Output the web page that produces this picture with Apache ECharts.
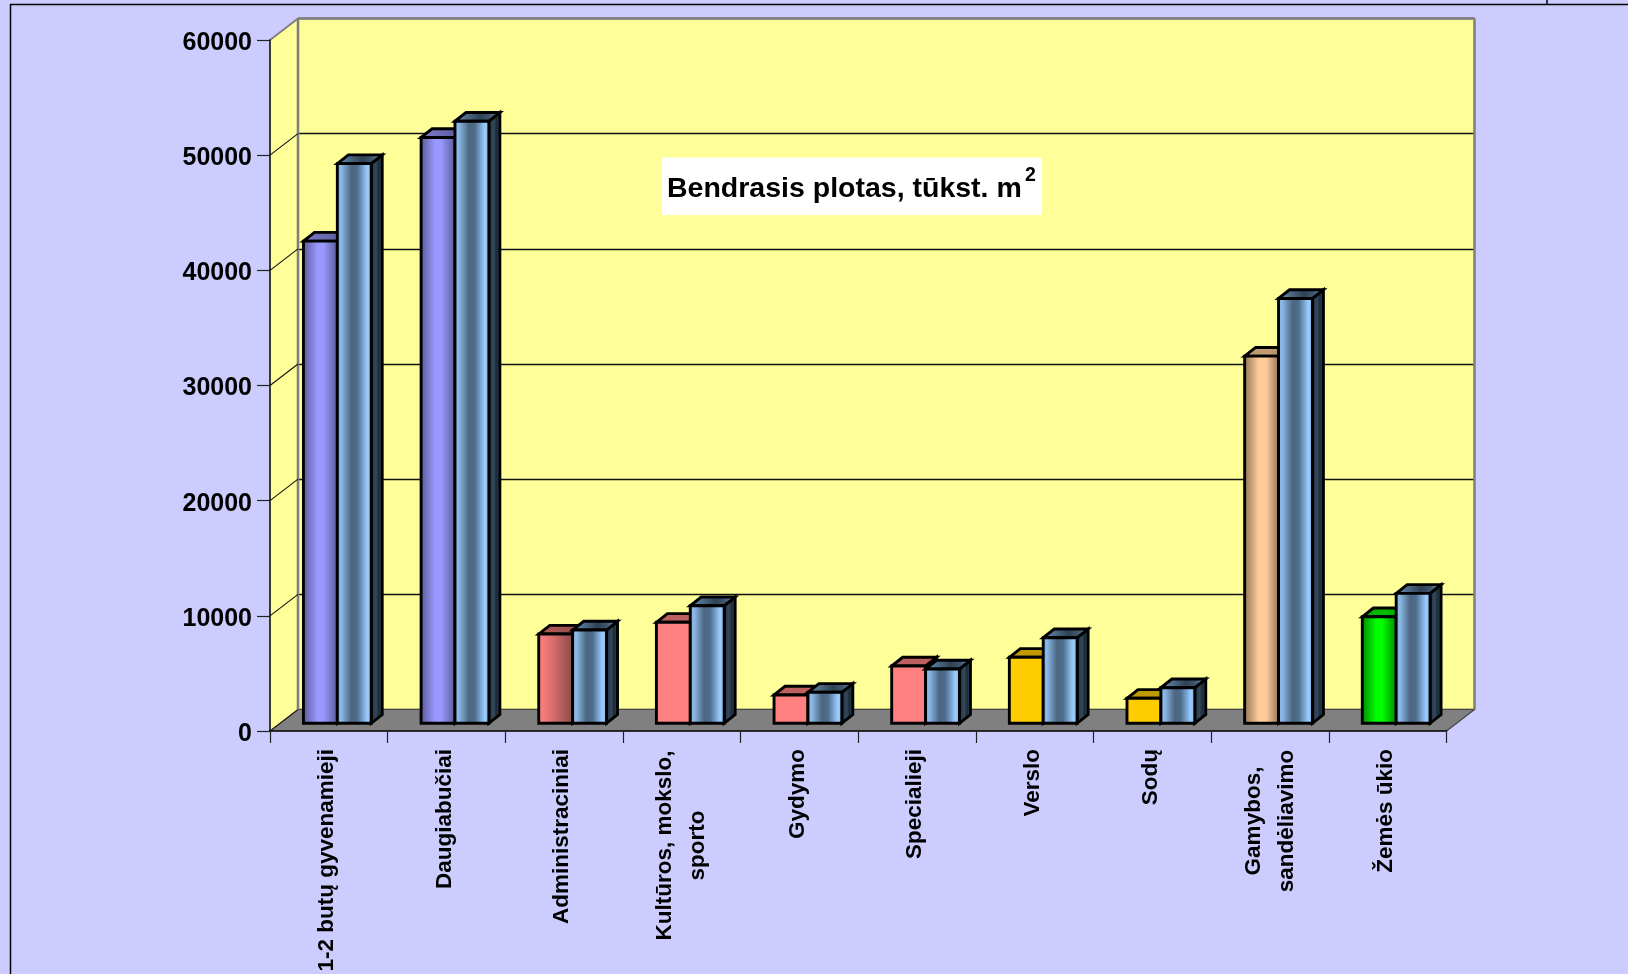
<!DOCTYPE html>
<html><head><meta charset="utf-8">
<style>html,body{margin:0;padding:0;background:#ccccff;overflow:hidden}#c{width:1628px;height:974px}</style>
<script src="https://cdn.jsdelivr.net/npm/echarts@6/dist/echarts.min.js"></script>
</head><body><div id="c"></div>
<script>
const categories = ['1-2 butų gyvenamieji','Daugiabučiai','Administraciniai','Kultūros, mokslo,\nsporto','Gydymo','Specialieji','Verslo','Sodų','Gamybos,\nsandėliavimo','Žemės ūkio'];
const firstValues  = [41870,50870,7750,8770,2460,4975,5730,2170,31880,9250];
const secondValues = [48600,52280,8100,10210,2690,4715,7430,3090,36890,11285];
const yTicks = [0,10000,20000,30000,40000,50000,60000];
const chartTitle = 'Bendrasis plotas, tūkst. m';
const titleSup = '2';

const G = echarts.graphic.LinearGradient;
const grad = stops => new G(0,0,1,0,stops.map((c,i)=>({offset:c[0],color:c[1]})));
const styles = {
  purple:{front:grad([[0,'#55558f'],[.42,'#9999ff'],[.58,'#9999ff'],[1,'#55558f']]),top:grad([[0,'#7c7ccf'],[1,'#55558f']])},
  salmonDark:{front:grad([[0,'#ff8080'],[.25,'#ee7878'],[1,'#884848']]),top:grad([[0,'#b85c5c'],[1,'#8e4a4a']])},
  salmon:{front:'#ff8080',top:'#bf6060'},
  yellow:{front:'#ffcc00',top:'#bf9900'},
  peach:{front:grad([[0,'#8a6c52'],[.42,'#ffcc99'],[.62,'#ffcc99'],[1,'#8a6c52']]),top:grad([[0,'#b9966f'],[.5,'#c49d75'],[1,'#a5845f']])},
  green:{front:grad([[0,'#008000'],[.42,'#00ff00'],[.58,'#00ff00'],[1,'#008000']]),top:grad([[0,'#00a800'],[.5,'#00c000'],[1,'#008f00']])},
  blue:{front:grad([[0,'#80abdc'],[.14,'#8cb9e8'],[.42,'#4b6680'],[.58,'#4e6d8c'],[.85,'#99ccff'],[1,'#88b6e6']]),
        top:grad([[0,'#7096bc'],[.55,'#2f4254'],[.75,'#3f566e'],[1,'#7aa3cc']]),
        side:grad([[0,'#1b2a36'],[.45,'#34495e'],[.65,'#1b2a36'],[1,'#3f566e']])}
};
const firstStyle = ['purple','purple','salmonDark','salmon','salmon','salmon','yellow','yellow','peach','green'];

const barWidthRatio = 0.288, barOffX = 8.5, barOffY = 7.7, barDepthX = 11, barDepthY = 8.7;
const wallX = 28, wallY = 21.5;
const INK = '#000';

function barItem(second, styleOf){
  return function(params, api){
    const i = api.value(0), v = api.value(1);
    const base = api.coord([i,0]), top = api.coord([i,v]);
    const w = api.size([1,0])[0]*barWidthRatio;
    const x0 = base[0] + barOffX + (second?0:-w), x1 = x0 + w;
    const yb = base[1]-barOffY, yt = top[1]-barOffY;
    const st = styles[styleOf(i)];
    const line = {stroke:INK,lineWidth:2.9,lineJoin:'miter'};
    return {type:'group',children:[
      {type:'polygon',shape:{points:[[x1,yt],[x1+barDepthX,yt-barDepthY],[x1+barDepthX,yb-barDepthY],[x1,yb]]},
        style:Object.assign({fill:st.side||st.top},line)},
      {type:'polygon',shape:{points:[[x0,yt],[x0+barDepthX,yt-barDepthY],[x1+barDepthX,yt-barDepthY],[x1,yt]]},
        style:Object.assign({fill:st.top},line)},
      {type:'rect',shape:{x:x0,y:yt,width:w,height:yb-yt},style:Object.assign({fill:st.front},line)}
    ]};
  };
}
function wallsItem(params, api){
  const band = api.size([1,0])[0];
  const L = api.coord([0,0])[0]-band/2, R = api.coord([categories.length-1,0])[0]+band/2;
  const y0 = api.coord([0,0])[1], yT = api.coord([0,yTicks[yTicks.length-1]])[1];
  const edge = {stroke:'#808080',lineWidth:2.6};
  return {type:'group',children:[
    {type:'polygon',shape:{points:[[L,yT],[L+wallX,yT-wallY],[L+wallX,y0-wallY],[L,y0]]},style:{fill:'#ffff99'}},
    {type:'line',shape:{x1:L+wallX,y1:yT-wallY,x2:L+wallX,y2:y0-wallY},style:edge},
    {type:'line',shape:{x1:R+wallX,y1:yT-wallY,x2:R+wallX,y2:y0-wallY},style:edge},
    {type:'line',shape:{x1:L+wallX,y1:yT-wallY,x2:R+wallX,y2:yT-wallY},style:edge},
    {type:'polygon',shape:{points:[[L,y0],[L+wallX,y0-wallY],[R+wallX,y0-wallY],[R,y0]]},style:{fill:'#808080'}},
    {type:'line',shape:{x1:R,y1:y0,x2:R+wallX,y2:y0-wallY},style:{stroke:'#444',lineWidth:1.2}}
  ]};
}
function diagItem(params, api){
  const band = api.size([1,0])[0];
  const v = api.value(0);
  const p = api.coord([0,v]);
  const L = p[0]-band/2;
  const isTop = v===yTicks[yTicks.length-1];
  return {type:'line',shape:{x1:L,y1:p[1],x2:L+wallX,y2:p[1]-wallY},
    style:{stroke:isTop?'#808080':'#111',lineWidth:isTop?2:1.1}};
}
const wideLabels = {3:'wide',8:'mid'};
const labelFont = {fontFamily:'Liberation Sans',fontWeight:'bold',fontSize:22.5,lineHeight:33,color:'#000'};
const tickFont = {fontFamily:'Liberation Sans',fontWeight:'bold',fontSize:25,color:'#000'};
const chart = echarts.init(document.getElementById('c'),null,{renderer:'canvas',width:1628,height:974});
chart.setOption({
  animation:false,
  backgroundColor:'#ccccff',
  title:[
    {text:chartTitle,left:667,top:175,padding:0,textStyle:{fontFamily:'Liberation Sans',fontWeight:'bold',fontSize:28.5,color:'#000'}},
    {text:titleSup,left:1025,top:166,padding:0,textStyle:{fontFamily:'Liberation Sans',fontWeight:'bold',fontSize:19.5,color:'#000'}}
  ],
  grid:[
    {left:270,top:40,width:1176.5,height:691,show:false,outerBoundsMode:'none'},
    {left:298,top:18.5,width:1176.5,height:691,show:true,backgroundColor:'#ffff99',borderWidth:0,outerBoundsMode:'none'}
  ],
  xAxis:[
    {type:'category',gridIndex:0,data:categories,z:4,
      axisLine:{lineStyle:{color:'#000',width:1.5}},
      axisTick:{show:true,length:12,lineStyle:{color:'#222',width:1.2}},
      axisLabel:Object.assign({interval:0,rotate:90,margin:18,hideOverlap:false,
        formatter:(v,i)=>{ const k=wideLabels[i]||'one'; return v.split('\n').map(s=>'{'+k+'|'+s+'}').join('\n'); },
        rich:{one:Object.assign({padding:[0,0,4,0]},labelFont),
              wide:Object.assign({width:193,align:'center'},labelFont),mid:Object.assign({width:144,align:'center'},labelFont)}},labelFont)},
    {type:'category',gridIndex:1,data:categories,axisLine:{show:false},axisTick:{show:false},axisLabel:{show:false}}
  ],
  yAxis:[
    {type:'value',gridIndex:0,min:0,max:60000,interval:10000,z:4,
      axisLine:{show:true,lineStyle:{color:'#000',width:1.5}},
      axisTick:{show:true,length:13,lineStyle:{color:'#222',width:1.2}},
      splitLine:{show:false},
      axisLabel:Object.assign({margin:18,formatter:v=>'{n|'+v+'}',rich:{n:Object.assign({padding:[6,0,0,0]},tickFont)}},tickFont)},
    {type:'value',gridIndex:1,min:0,max:60000,interval:10000,axisLine:{show:false},axisTick:{show:false},axisLabel:{show:false},
      splitLine:{show:true,lineStyle:{color:'#111',width:1.3}}}
  ],
  series:[
    {type:'custom',xAxisIndex:0,yAxisIndex:0,z:1,silent:true,coordinateSystem:'cartesian2d',clip:false,renderItem:wallsItem,data:[[0]],encode:{x:0,y:0}},
    {type:'custom',xAxisIndex:0,yAxisIndex:0,z:2,silent:true,clip:false,renderItem:diagItem,data:yTicks.map(v=>[v]),encode:{y:0}},
    {type:'custom',name:'a',xAxisIndex:0,yAxisIndex:0,z:5,clip:false,renderItem:barItem(false,i=>firstStyle[i]),data:firstValues.map((v,i)=>[i,v]),encode:{x:0,y:1}},
    {type:'custom',name:'b',xAxisIndex:0,yAxisIndex:0,z:6,clip:false,renderItem:barItem(true,()=>'blue'),data:secondValues.map((v,i)=>[i,v]),encode:{x:0,y:1}}
  ],
  graphic:[
    {type:'rect',z:3,shape:{x:662,y:157.5,width:380,height:57.5},style:{fill:'#fff'}},
    {type:'line',z:10,shape:{x1:10,y1:4.6,x2:1628,y2:4.6},style:{stroke:'#000',lineWidth:1.5}},
    {type:'line',z:10,shape:{x1:10.5,y1:4,x2:10.5,y2:974},style:{stroke:'#000',lineWidth:1.5}},
    {type:'line',z:10,shape:{x1:1547,y1:0,x2:1547,y2:4},style:{stroke:'#000',lineWidth:1.5}}
  ]
});
</script></body></html>
